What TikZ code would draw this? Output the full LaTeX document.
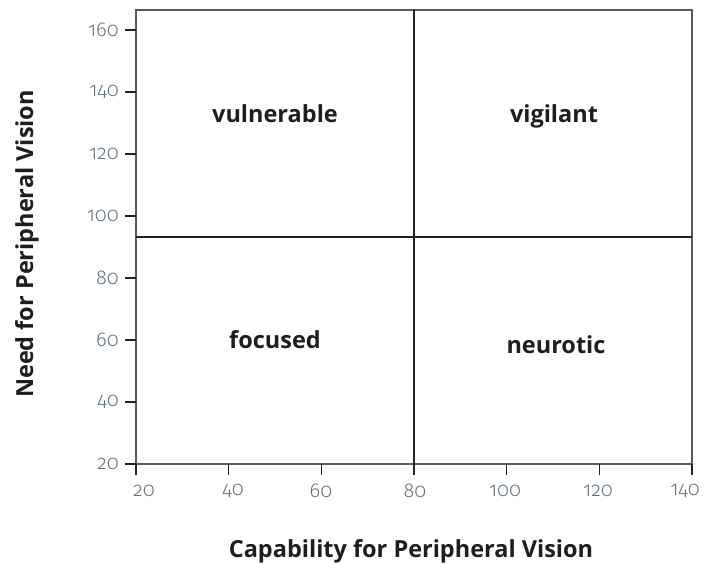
\documentclass[tikz,border=0pt]{standalone}
\usepackage{fontspec}
\setmainfont{Open Sans}
\newfontfamily\tickfont[Numbers=OldStyle]{Fira Sans Light}
\definecolor{ticktext}{HTML}{62727F}
\definecolor{framecol}{HTML}{5A5A5A}
\definecolor{divcol}{HTML}{222222}
\definecolor{labelcol}{HTML}{1E1E1E}
\begin{document}
\begin{tikzpicture}[x=1pt,y=-1pt,
  framestyle/.style={draw=framecol,line width=1.3pt},
  divider/.style={draw=divcol,line width=1.6pt},
  tickmark/.style={draw=divcol,line width=1.1pt},
  ticklab/.style={font=\tickfont\fontsize{20}{20}\selectfont,text=ticktext,inner sep=0pt},
  quad/.style={font=\bfseries\fontsize{23.5}{23.5}\selectfont,text=labelcol,inner sep=0pt,anchor=base},
  axtitle/.style={font=\bfseries\fontsize{23.5}{23.5}\selectfont,text=labelcol,inner sep=0pt,anchor=base}]
\useasboundingbox (0,0) rectangle (703,564);
% frame
\coordinate (ll) at (136,464);
\coordinate (ur) at (692,10);
\draw[framestyle] (ll) rectangle (ur);
% dividers
\coordinate (vtop) at (414,10);
\coordinate (vbot) at (414,464);
\coordinate (hleft) at (136,237);
\coordinate (hright) at (692,237);
\draw[divider] (vtop) -- (vbot);
\draw[divider] (hleft) -- (hright);
% y ticks
\foreach \v in {20,40,...,160}{
  \pgfmathsetmacro{\yy}{464-(\v-20)*3.1}
  \draw[tickmark] (125,\yy) -- (136,\yy);
  \node[ticklab,anchor=east] (yl\v) at (119,\yy) {\v};
}
% x ticks
\foreach \v/\lx in {20/144,40/233,60/321,80/415,100/505,120/598,140/685}{
  \pgfmathsetmacro{\xx}{136+(\v-20)*4.6333}
  \draw[tickmark] (\xx,464) -- (\xx,475);
  \node[ticklab] (xl\v) at (\lx,491) {\v};
}
% quadrant labels
\node[quad] (vul) at (275,123) {vulnerable};
\node[quad] (vig) at (554,123) {vigilant};
\node[quad] (foc) at (275,348) {focused};
\node[quad] (neu) at (556,353) {neurotic};
% axis titles
\node[axtitle] (xt) at (411,557) {Capability for Peripheral Vision};
\node[axtitle,rotate=90] (yt) at (33,244) {Need for Peripheral Vision};
\end{tikzpicture}
\end{document}
